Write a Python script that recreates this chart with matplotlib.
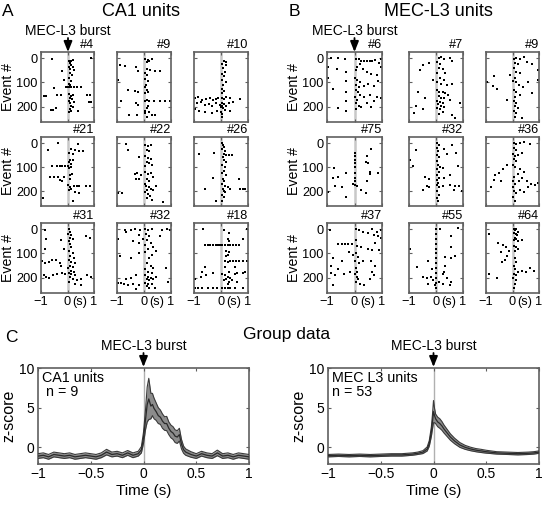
import numpy as np
import matplotlib
matplotlib.use("Agg")
import matplotlib.pyplot as plt
import matplotlib.transforms as mtransforms

plt.rcParams["font.family"] = ["Liberation Sans", "DejaVu Sans"]

# ---- raster data: (time from burst in s, event #) ----
ca1_4 = [(-0.6,3),(0.88,0),(0.05,10),(0.12,12),(0.2,8),(0.1,22),(0.15,28),(0.05,35),(0.2,38),(0.1,45),(0.25,48),
         (-0.22,52),(0.08,62),(0.18,70),(0.05,80),(-0.12,90),(0.12,95),(0.05,105),
         (-0.05,118),(0.02,118),(0.08,118),(0.15,118),(0.25,118),(0.35,118),(0.5,118),(0.1,112),
         (-0.5,122),(-0.9,155),(-0.8,155),(-0.38,152),(-0.25,150),(0.05,148),(0.12,155),(0.2,150),(0.08,162),
         (0.18,168),(0.05,175),(0.25,180),(0.1,185),(0.75,150),(0.85,152),(0.82,178),(0.88,180),
         (-0.62,212),(-0.55,212),(-0.45,205),(0.08,210),(0.15,215),(0.05,220),(0.38,215),(0.2,200),(0.12,195)]
ca1_9 = [(0.05,4),(0.15,6),(0.3,3),(0.1,15),(0.2,12),(-0.9,27),(-0.7,34),(-0.3,38),(-0.22,52),(0.22,48),(0.4,52),
         (0.58,54),(0.1,45),(0.05,60),(-0.95,88),(0.1,70),(0.05,85),(0.15,95),(0.08,110),(-0.6,132),(-0.35,136),
         (-0.22,140),(0.02,120),(0.1,130),(0.05,145),(0.15,140),(-0.85,175),(0.02,177),(0.2,177),(0.38,177),
         (0.58,177),(0.78,177),(0.95,177),(0.1,170),(-0.28,183),(-0.22,192),(0.15,195),(0.1,205),(0.05,215),
         (0.2,220),(-0.55,232),(-0.25,232),(0.02,225),(0.28,232),(0.4,232),(0.12,240)]
ca1_10 = [(0.12,10),(0.18,18),(0.05,25),(0.2,30),(0.08,42),(0.15,55),(0.02,65),(0.12,75),(0.05,90),(0.18,100),
          (0.08,110),(0.02,125),(0.12,135),(0.05,145),(-0.95,165),(-0.85,160),(-0.7,170),(-0.55,168),(-0.4,165),
          (-0.3,170),(-0.2,168),(-0.1,165),(0.02,162),(0.1,168),(0.2,160),(0.35,165),(0.7,168),(-0.9,185),
          (-0.75,180),(-0.6,192),(-0.45,188),(-0.35,195),(-0.2,185),(-0.05,192),(0.02,185),(0.05,195),(0.0,200),
          (0.08,205),(0.12,190),(0.2,198),(0.3,185),(0.45,180),(-0.95,210),(-0.8,215),(-0.6,220),(-0.35,225),
          (-0.15,215),(0.0,220),(0.05,230),(0.15,212),(0.35,215),(0.05,240)]
ca1_21 = [(-0.35,2),(0.4,5),(-0.72,30),(0.12,25),(0.3,30),(0.05,40),(0.2,45),(0.45,35),(0.6,32),(0.1,70),(0.2,72),
          (0.05,80),(0.15,88),(-0.6,95),(-0.4,95),(-0.3,95),(-0.2,95),(-0.1,95),(0.02,95),(0.12,100),(0.05,105),
          (-0.65,140),(-0.5,140),(-0.35,140),(-0.15,140),(0.08,135),(0.18,130),(0.1,148),(-0.3,155),(-0.2,160),
          (0.02,175),(0.1,182),(0.15,190),(0.25,180),(0.35,180),(0.45,180),(0.7,180),(0.85,180),(0.05,195),
          (0.3,205),(0.45,210),(-0.92,230),(0.2,240)]
ca1_22 = [(-0.65,5),(0.05,8),(0.15,12),(0.25,10),(-0.6,30),(0.1,30),(0.2,35),(-0.2,58),(0.05,55),(0.15,62),
          (0.25,68),(0.1,78),(0.2,85),(0.05,95),(0.3,90),(-0.35,130),(-0.25,125),(-0.1,135),(0.05,120),(0.15,130),
          (0.25,125),(0.35,140),(-0.3,150),(-0.2,150),(0.1,150),(0.2,160),(0.05,170),(0.08,180),(0.18,185),
          (0.12,195),(0.25,190),(0.35,195),(0.05,205),(0.15,212),(0.22,220),(0.1,230),(0.3,235),(-0.95,210),
          (-0.8,210),(0.7,245),(0.45,180)]
ca1_26 = [(0.05,0),(0.08,8),(0.12,15),(0.05,25),(0.15,35),(0.1,45),(0.2,50),(0.3,50),(0.4,50),(0.08,60),(0.12,70),
          (0.2,80),(0.05,90),(0.15,100),(0.1,115),(0.05,125),(0.18,135),(0.08,150),(0.12,160),(0.02,170),
          (0.15,180),(0.25,185),(0.08,190),(0.12,200),(0.05,215),(0.1,225),(0.02,240),(0.15,205),(-0.8,45),
          (-0.25,40),(-0.3,145),(-0.6,190),(0.65,150),(0.7,190),(0.8,190),(0.9,190),(-0.2,240),(0.35,190)]
ca1_31 = [(-0.85,5),(0.05,0),(0.1,10),(0.02,20),(0.15,25),(0.08,35),(0.2,40),(0.05,50),(0.7,30),(0.85,35),
          (-0.8,40),(-0.85,80),(-0.25,45),(-0.15,80),(0.1,60),(0.15,75),(0.05,90),(0.2,100),(0.1,110),(0.25,120),
          (0.05,125),(0.15,135),(0.3,140),(0.08,150),(0.2,155),(0.02,160),(0.12,170),(0.25,175),(0.05,180),
          (0.15,185),(0.3,190),(0.1,195),(0.2,205),(0.35,210),(0.05,215),(0.5,205),(-0.95,130),(-0.85,140),
          (-0.7,135),(-0.6,125),(-0.45,125),(-0.3,140),(-0.25,150),(-0.9,190),(-0.8,195),(-0.7,200),(-0.55,190),
          (-0.4,185),(-0.2,180),(-0.1,185),(0.75,190),(0.9,195),(0.5,230),(0.3,225)]
ca1_32 = [(-0.95,40),(-0.7,5),(-0.5,5),(-0.35,0),(-0.15,5),(-0.65,10),(0.05,0),(0.15,5),(0.3,0),(0.65,5),(0.85,0),
          (0.95,5),(0.6,30),(-0.2,25),(-0.05,40),(0.08,20),(0.2,30),(0.1,45),(0.25,55),(0.05,65),(-0.4,50),
          (-0.2,55),(0.15,80),(0.05,95),(0.3,105),(0.2,120),(-0.9,110),(-0.5,120),(-0.2,100),(0.35,75),(0.45,90),
          (0.1,140),(0.25,150),(0.35,160),(0.05,165),(0.15,175),(0.3,180),(-0.3,190),(-0.5,200),(-0.65,205),
          (0.8,160),(0.05,190),(0.15,195),(0.25,200),(0.1,205),(0.2,210),(0.35,205),(0.45,195),(0.05,220),
          (0.15,225),(0.3,225),(0.1,235),(0.2,240),(0.4,240),(-0.95,220),(-0.85,220),(-0.75,225),(-0.6,230),
          (-0.4,225),(-0.2,230),(0.9,215),(-0.3,245)]
ca1_18 = [(-0.65,0),(0.1,3),(0.3,15),(0.95,0),(-0.6,65),(-0.5,65),(-0.4,65),(-0.3,65),(-0.2,65),(-0.1,65),
          (-0.03,65),(0.05,65),(0.15,65),(0.25,65),(0.35,65),(0.45,65),(0.55,65),(0.65,65),(0.25,40),(0.3,50),
          (0.2,90),(0.3,95),(0.25,105),(0.2,110),(0.8,40),(0.15,130),(0.25,135),(0.35,130),(0.45,130),(0.55,130),
          (0.65,130),(0.8,130),(0.95,130),(0.5,155),(0.15,155),(-0.6,155),(-0.7,175),(0.3,175),(0.5,185),
          (0.6,180),(0.8,180),(0.9,175),(-0.95,205),(-0.75,195),(-0.55,190),(-0.3,180),(0.05,185),(0.15,190),
          (0.25,195),(0.35,200),(0.2,205),(0.3,215),(0.1,210),(0.4,210),(0.25,225),(-0.95,240),(-0.85,240),
          (-0.7,240),(-0.5,240),(-0.3,240),(-0.15,240),(0.05,240),(0.15,240),(0.25,240),(0.35,240),(0.5,240),
          (0.8,240),(0.6,215)]

mec_6 = [(-0.85,0),(-0.6,-2),(-0.35,5),(0.05,2),(0.15,5),(0.25,10),(0.35,10),(0.45,10),(0.55,10),(0.65,10),
         (0.75,8),(0.95,2),(0.9,20),(0.95,35),(-0.95,35),(-0.65,45),(-0.3,55),(0.1,35),(0.2,25),(0.05,50),(0.3,45),
         (0.45,55),(0.6,65),(0.8,70),(-0.95,80),(-0.3,95),(0.02,80),(0.1,90),(0.2,100),(0.05,110),(0.15,120),
         (0.35,115),(0.5,105),(0.7,115),(0.85,95),(-0.8,125),(-0.3,140),(0.05,130),(0.12,140),(0.2,150),
         (0.02,160),(0.1,170),(0.35,160),(0.55,150),(0.8,160),(0.95,165),(-0.3,175),(0.05,185),(0.15,195),
         (0.25,200),(0.45,185),(0.6,200),(0.7,175),(-0.6,205),(0.05,210),(-0.3,215)]
mec_7 = [(0.1,0),(0.2,-5),(0.3,5),(0.5,0),(0.6,10),(0.05,15),(0.15,25),(-0.25,20),(-0.5,30),(-0.6,50),(0.1,40),
         (0.25,45),(0.35,60),(0.05,60),(0.15,80),(0.3,90),(-0.1,90),(0.05,100),(0.2,105),(0.4,110),(0.6,105),
         (-0.65,140),(-0.4,165),(0.02,130),(0.12,140),(0.25,140),(0.35,145),(0.45,150),(0.1,155),(0.2,165),
         (0.3,165),(0.5,170),(0.05,175),(0.15,180),(0.25,185),(0.08,190),(0.18,195),(0.3,200),(0.05,205),
         (0.15,210),(0.25,220),(0.12,230),(-0.75,195),(-0.8,225),(-0.5,210),(0.6,235),(0.7,245),(0.9,185)]
mec_9 = [(0.05,5),(0.15,0),(0.3,5),(0.55,15),(0.45,-5),(0.75,25),(0.1,20),(0.2,25),(0.05,40),(0.15,55),(0.3,60),
         (-0.1,70),(0.08,80),(0.02,95),(0.12,100),(0.25,110),(0.4,120),(0.6,100),(-0.7,75),(-0.95,100),
         (-0.75,115),(-0.6,125),(0.98,50),(0.98,90),(0.05,130),(0.15,140),(0.3,150),(0.1,160),(-0.2,170),
         (0.05,175),(0.15,185),(0.1,195),(0.2,205),(0.05,215),(0.15,225),(0.1,240),(0.35,245),(0.75,145)]
mec_75 = [(0.02,40),(0.02,55),(0.02,70),(0.0,85),(0.02,100),(0.0,125),(0.02,145),(0.0,160),(-0.05,170),(0.02,175),
          (0.1,180),(0.6,25),(0.45,55),(0.5,85),(0.4,80),(0.55,120),(0.55,130),(0.85,125),(0.45,160),(-0.75,105),
          (-0.8,145),(-0.6,140),(-0.3,125),(-0.95,205),(-0.7,180),(-0.45,185),(-0.3,225),(0.25,195),(0.4,210)]
mec_32 = [(0.05,0),(0.1,10),(0.02,20),(0.08,35),(0.3,25),(0.6,10),(0.75,40),(0.4,45),(-0.75,30),(0.05,50),(0.12,60),
          (0.02,75),(0.08,90),(0.15,100),(0.25,105),(0.05,110),(0.12,120),(-0.95,70),(-0.85,95),(0.8,95),
          (0.02,135),(0.1,145),(0.05,155),(-0.4,140),(-0.25,150),(0.3,145),(0.5,135),(0.08,165),(0.02,175),
          (0.12,185),(-0.35,180),(-0.25,185),(0.25,180),(0.5,175),(0.7,180),(0.85,180),(0.65,195),(0.95,200),
          (0.05,200),(0.1,215),(0.02,230),(0.08,240),(-0.5,195)]
mec_36 = [(0.05,0),(0.15,5),(0.3,0),(0.45,-5),(0.65,5),(0.05,20),(0.12,30),(0.02,45),(0.1,55),(0.2,50),(0.35,40),
          (0.05,65),(0.15,75),(0.02,90),(0.1,100),(0.3,110),(0.45,120),(0.2,130),(0.05,140),(0.35,145),(0.55,160),
          (0.7,170),(0.85,175),(-0.2,90),(-0.35,110),(-0.5,125),(-0.65,135),(-0.7,155),(-0.8,185),(-0.45,160),
          (0.02,160),(0.1,170),(0.0,185),(0.05,200),(0.15,210),(0.02,225),(0.08,240),(0.3,195),(0.45,205),
          (0.6,185),(0.95,165),(0.25,160)]
mec_37 = [(-0.9,5),(0.05,0),(0.15,5),(0.3,10),(0.5,15),(0.65,0),(0.8,10),(0.95,5),(0.7,25),(0.85,30),(0.95,35),
          (-0.6,60),(-0.45,60),(-0.35,60),(-0.25,60),(-0.1,60),(0.05,45),(0.1,70),(0.25,75),(0.5,80),(0.65,85),
          (0.9,85),(0.75,55),(-0.2,95),(-0.05,105),(0.05,100),(0.12,115),(0.02,130),(0.15,140),(0.3,130),
          (0.6,130),(0.75,150),(-0.8,120),(-0.85,150),(-0.6,165),(-0.45,130),(0.05,160),(0.1,175),(0.02,185),
          (0.08,195),(0.12,205),(0.05,215),(0.2,225),(0.65,175),(0.7,190),(0.55,205),(-0.85,180),(-0.7,190),
          (-0.4,185),(-0.15,175),(-0.8,230),(0.35,230)]
mec_55 = [(0.0,0),(0.0,20),(0.0,40),(0.0,60),(0.0,80),(0.0,100),(0.0,120),(0.0,140),(0.0,160),(0.0,180),(0.0,200),
          (0.0,220),(0.0,240),(0.15,0),(0.8,-5),(0.55,30),(0.55,75),(-0.95,80),(0.7,110),(0.35,115),(0.55,120),
          (-0.3,130),(-0.7,155),(0.35,150),(-0.15,165),(0.3,175),(0.25,185),(-0.5,195),(-0.35,200),(-0.2,195),
          (0.4,200),(-0.1,210),(0.1,215),(0.55,215),(-0.3,225),(-0.05,230),(0.25,225),(0.5,230)]
mec_64 = [(0.05,0),(0.1,5),(0.15,0),(0.2,10),(0.05,15),(0.12,20),(0.18,25),(0.08,35),(0.15,40),(0.05,45),(0.2,50),
          (0.35,45),(-0.9,20),(-0.55,55),(-0.35,65),(-0.25,75),(-0.15,90),(0.05,70),(0.12,75),(0.2,80),(0.08,90),
          (-0.45,95),(-0.2,110),(-0.3,125),(-0.4,135),(0.1,120),(0.15,135),(0.05,150),(-0.9,185),(-0.6,200),
          (0.1,165),(0.2,175),(0.35,170),(0.5,175),(0.65,160),(0.8,170),(0.05,185),(0.15,190),(0.02,200),
          (0.12,210),(0.08,225),(0.05,240)]

ca1_labels = ["#4", "#9", "#10", "#21", "#22", "#26", "#31", "#32", "#18"]
ca1_units = [ca1_4, ca1_9, ca1_10, ca1_21, ca1_22, ca1_26, ca1_31, ca1_32, ca1_18]
mec_labels = ["#6", "#7", "#9", "#75", "#32", "#36", "#37", "#55", "#64"]
mec_units = [mec_6, mec_7, mec_9, mec_75, mec_32, mec_36, mec_37, mec_55, mec_64]

# ---- group data (mean z-score and s.e.m.) ----
ca1_t = [-1, -0.95, -0.9, -0.85, -0.8, -0.75, -0.7, -0.65, -0.6, -0.55, -0.5, -0.45, -0.4, -0.35, -0.3,
         -0.25, -0.2, -0.15, -0.1, -0.05, -0.02, 0, 0.02, 0.035, 0.05, 0.07, 0.085, 0.1, 0.12, 0.14, 0.16,
         0.18, 0.2, 0.22, 0.24, 0.26, 0.28, 0.3, 0.32, 0.34, 0.36, 0.38, 0.4, 0.45, 0.5, 0.55, 0.6, 0.65,
         0.7, 0.75, 0.8, 0.85, 0.9, 0.95, 1]
ca1_mean = [-1.1, -1.0, -1.2, -0.9, -1.0, -1.1, -1.0, -1.2, -1.1, -1.0, -1.1, -1.2, -1.0, -0.6, -0.9,
            -0.8, -1.0, -0.7, -1.0, -0.8, -0.3, 1.2, 3.6, 5.4, 6.1, 5.2, 5.4, 4.9, 4.5, 4.0, 3.8,
            3.3, 3.0, 3.0, 2.4, 2.0, 1.8, 1.4, 1.3, 1.6, 0.4, -0.3, -0.6, -0.9, -1.1, -0.8, -1.0, -1.1,
            -0.7, -1.1, -1.0, -1.2, -1.0, -1.1, -1.2]
ca1_sem = [0.3, 0.3, 0.3, 0.3, 0.3, 0.3, 0.3, 0.3, 0.3, 0.3, 0.3, 0.3, 0.3, 0.35, 0.3,
           0.3, 0.3, 0.3, 0.3, 0.3, 0.4, 0.7, 1.3, 2.2, 2.6, 1.6, 1.4, 1.3, 1.1, 1.0, 0.9,
           0.9, 0.85, 0.9, 0.8, 0.8, 0.8, 0.8, 0.8, 0.8, 0.6, 0.45, 0.4, 0.35, 0.3, 0.3, 0.3, 0.3,
           0.35, 0.3, 0.3, 0.3, 0.3, 0.3, 0.3]

mec_t = [-1, -0.9, -0.8, -0.7, -0.6, -0.5, -0.4, -0.3, -0.2, -0.15, -0.1, -0.06, -0.04, -0.02, -0.01, 0,
         0.01, 0.02, 0.04, 0.06, 0.08, 0.1, 0.13, 0.16, 0.2, 0.25, 0.3, 0.35, 0.4, 0.45, 0.5, 0.6, 0.7,
         0.8, 0.9, 0.95, 1]
mec_mean = [-1.05, -1.0, -1.05, -1.0, -1.05, -1.0, -0.95, -0.95, -0.85, -0.75, -0.6, -0.2, 0.5, 2.0, 3.2, 4.5,
            4.0, 3.6, 3.2, 3.0, 2.7, 2.3, 1.8, 1.3, 0.8, 0.3, 0.0, -0.2, -0.35, -0.45, -0.55, -0.7, -0.75,
            -0.8, -0.75, -0.7, -0.6]
mec_sem = [0.15, 0.15, 0.15, 0.15, 0.15, 0.15, 0.15, 0.15, 0.15, 0.15, 0.18, 0.25, 0.35, 0.6, 0.9, 1.4,
           0.9, 0.6, 0.6, 0.6, 0.55, 0.5, 0.45, 0.4, 0.35, 0.3, 0.25, 0.22, 0.2, 0.2, 0.18, 0.15, 0.15,
           0.15, 0.15, 0.15, 0.15]

W, H = 544, 505
fig = plt.figure(figsize=(W / 100, H / 100), dpi=100)


def px_axes(x0, y0, x1, y1):
    return fig.add_axes([x0 / W, 1 - y1 / H, (x1 - x0) / W, (y1 - y0) / H])


def fig_text(x, y, s, **kw):
    fig.text(x / W, 1 - y / H, s, **kw)


def arrow(x, y0, y1):
    fig.add_artist(matplotlib.patches.FancyArrowPatch(
        (x / W, 1 - y0 / H), (x / W, 1 - y1 / H), transform=fig.transFigure,
        arrowstyle="-|>,head_length=0.45,head_width=0.18", mutation_scale=14,
        color="k", lw=1.3, shrinkA=0, shrinkB=0))


def style_box(ax, size):
    for sp in ax.spines.values():
        sp.set_color("#606060")
        sp.set_linewidth(1.2)
    ax.tick_params(direction="in", length=2.5, width=0.8, color="#606060",
                   top=True, right=True, labelsize=size, pad=2.5)


col_a = [(41, 94), (117, 171), (194, 248)]
col_b = [(327, 382), (409, 463), (486, 539)]
rows = [(52, 122), (137, 206), (223, 293)]


def raster_grid(cols, units, labels):
    for i, (spikes, lab) in enumerate(zip(units, labels)):
        r, c = divmod(i, 3)
        ax = px_axes(cols[c][0], rows[r][0], cols[c][1], rows[r][1])
        ax.axvline(0, color="#c8c8c8", lw=1.8, zorder=1)
        tt = [p[0] for p in spikes]
        ev = [p[1] for p in spikes]
        ax.plot(tt, ev, "s", ms=1.5, mew=0, color="k", zorder=2)
        ax.set_xlim(-1, 1)
        ax.set_ylim(262, -25)
        ax.set_xticks([-1, 0, 1])
        ax.set_yticks([0, 100, 200])
        style_box(ax, 9.2)
        if c == 0:
            ax.set_ylabel("Event #", fontsize=10.2, labelpad=1)
        else:
            ax.set_yticklabels([])
        if r == 2:
            ax.set_xticklabels(["\u22121", "0", "1"])
            off = mtransforms.offset_copy(ax.get_xaxis_transform(), fig=fig, y=-2.5, units="points")
            ax.text(0.47, 0, "(s)", transform=off, ha="center", va="top", fontsize=9.2)
        else:
            ax.set_xticklabels([])
        ax.text(1.0, 1.01, lab, transform=ax.transAxes, ha="right", va="bottom", fontsize=9.2)


raster_grid(col_a, ca1_units, ca1_labels)
raster_grid(col_b, mec_units, mec_labels)


def group_panel(x0, x1, t, mean, sem, label):
    ax = px_axes(x0, 368, x1, 464)
    t = np.array(t)
    m = np.array(mean)
    s = np.array(sem)
    ax.axvline(0, color="#b0b0b0", lw=1.0, zorder=1)
    ax.fill_between(t, m - s, m + s, color="#8c8c8c", lw=0, zorder=2)
    ax.plot(t, m + s, color="#3a3a3a", lw=0.8, zorder=3)
    ax.plot(t, m - s, color="#3a3a3a", lw=0.8, zorder=3)
    ax.plot(t, m, color="#2a2a2a", lw=0.9, zorder=4)
    ax.set_xlim(-1, 1)
    ax.set_ylim(-2.1, 10)
    ax.set_xticks([-1, -0.5, 0, 0.5, 1])
    ax.set_xticklabels(["\u22121", "\u22120.5", "0", "0.5", "1"])
    ax.set_yticks([0, 5, 10])
    style_box(ax, 10)
    ax.set_xlabel("Time (s)", fontsize=11, labelpad=2)
    ax.set_ylabel("z-score", fontsize=11.5, labelpad=2)
    ax.text(0.02, 0.97, label, transform=ax.transAxes, ha="left", va="top", fontsize=10.3, linespacing=1.0)
    return ax


group_panel(38, 249, ca1_t, ca1_mean, ca1_sem, "CA1 units\n n = 9")
group_panel(328, 539, mec_t, mec_mean, mec_sem, "MEC L3 units\nn = 53")

# ---- labels and arrows ----
fig_text(8, 11, "A", fontsize=12.5, ha="center", va="center")
fig_text(294, 11, "B", fontsize=12.5, ha="center", va="center")
fig_text(11, 337, "C", fontsize=12.5, ha="center", va="center")
fig_text(141, 11, "CA1 units", fontsize=13, ha="center", va="center")
fig_text(438, 11, "MEC-L3 units", fontsize=13, ha="center", va="center")
fig_text(287, 334, "Group data", fontsize=12.5, ha="center", va="center")

for xc, yt in [(68, 31), (354.5, 31), (143.5, 346), (433.5, 346)]:
    fig_text(xc, yt, "MEC-L3 burst", fontsize=10, ha="center", va="center")
    arrow(xc, yt + 7, yt + 21)

fig.savefig("out.png", dpi=100)
